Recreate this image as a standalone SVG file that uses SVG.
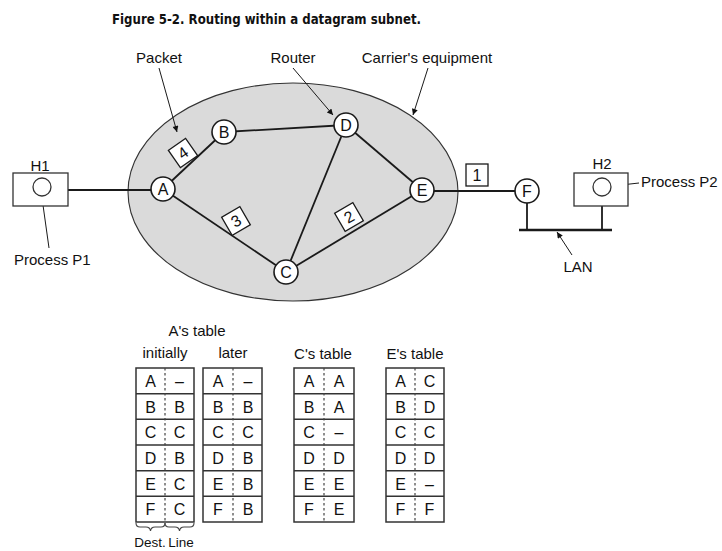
<svg xmlns="http://www.w3.org/2000/svg" width="722" height="551" viewBox="0 0 722 551">
<defs>
<marker id="ah" viewBox="0 0 10 10" refX="10" refY="5" markerWidth="9" markerHeight="6" markerUnits="userSpaceOnUse" orient="auto">
<path d="M0,0 L10,5 L0,10 z" fill="#111"/>
</marker>
</defs>
<style>
text{font-family:"Liberation Sans",Arial,sans-serif;fill:#111}
.lbl{font-size:15px}
.ttl{font-family:"DejaVu Sans",sans-serif;font-weight:bold;font-size:13.5px}
.nd{fill:#fff;stroke:#1a1a1a;stroke-width:1.6}
.nt{font-size:16px;text-anchor:middle}
.ln{stroke:#1a1a1a;stroke-width:1.8;fill:none}
.ar{stroke:#1a1a1a;stroke-width:1;fill:none;marker-end:url(#ah)}
.pk{fill:#fff;stroke:#1a1a1a;stroke-width:1.3}
.tb{fill:#fff;stroke:#333;stroke-width:1.5}
.rs{stroke:#333;stroke-width:1.6}
.dv{stroke:#444;stroke-width:1.2;stroke-dasharray:2.5,2.5}
.ct{font-size:16px;text-anchor:middle}
.mid{text-anchor:middle}
</style>
<rect width="722" height="551" fill="#fff"/>
<text class="ttl" x="266.5" y="24" text-anchor="middle" textLength="309" lengthAdjust="spacingAndGlyphs">Figure 5-2. Routing within a datagram subnet.</text>

<g id="carrier">
<ellipse cx="293" cy="192" rx="165" ry="109" fill="#dadada" stroke="#333" stroke-width="1.1"/>
</g>

<g id="connectors">
<line class="ln" x1="68" y1="190" x2="151" y2="190"/>
<line class="ln" x1="163" y1="189" x2="224" y2="132"/>
<line class="ln" x1="163" y1="189" x2="286" y2="272"/>
<line class="ln" x1="224" y1="132" x2="346" y2="125"/>
<line class="ln" x1="346" y1="125" x2="286" y2="272"/>
<line class="ln" x1="346" y1="125" x2="422" y2="190"/>
<line class="ln" x1="286" y1="272" x2="422" y2="190"/>
<line class="ln" x1="422" y1="191" x2="527" y2="191"/>
<line class="ln" x1="527" y1="191" x2="527" y2="230"/>
<line class="ln" x1="602" y1="206" x2="602" y2="230"/>
<line x1="519" y1="230" x2="612" y2="230" stroke="#1a1a1a" stroke-width="2.4"/>
<line class="ar" x1="159" y1="68" x2="177" y2="132"/>
<line class="ar" x1="293" y1="68" x2="333" y2="115"/>
<line class="ar" x1="428" y1="68" x2="413" y2="115"/>
<line class="ar" x1="49" y1="248" x2="42" y2="198"/>
<line class="ar" x1="639" y1="183" x2="612" y2="186"/>
<line class="ar" x1="572" y1="255" x2="557" y2="232"/>
</g>

<g id="H1">
<rect x="13" y="173" width="55" height="33" fill="#fff" stroke="#333" stroke-width="1.3"/>
<circle cx="42" cy="187" r="9" fill="#fff" stroke="#333" stroke-width="1.3"/>
<text class="lbl mid" x="40" y="171">H1</text>
</g>
<g id="H2">
<rect x="574" y="173" width="54" height="33" fill="#fff" stroke="#333" stroke-width="1.3"/>
<circle cx="602" cy="187" r="9" fill="#fff" stroke="#333" stroke-width="1.3"/>
<text class="lbl mid" x="602" y="169">H2</text>
</g>

<g id="nodeA"><circle class="nd" cx="163" cy="189" r="12"/><text class="nt" x="163" y="195">A</text></g>
<g id="nodeB"><circle class="nd" cx="224" cy="132" r="12"/><text class="nt" x="224" y="138">B</text></g>
<g id="nodeC"><circle class="nd" cx="286" cy="272" r="12"/><text class="nt" x="286" y="278">C</text></g>
<g id="nodeD"><circle class="nd" cx="346" cy="125" r="12"/><text class="nt" x="346" y="131">D</text></g>
<g id="nodeE"><circle class="nd" cx="422" cy="190" r="12"/><text class="nt" x="422" y="196">E</text></g>
<g id="nodeF"><circle class="nd" cx="527" cy="191" r="12"/><text class="nt" x="527" y="197">F</text></g>

<g id="packet4" transform="translate(183,153) rotate(-35)"><rect class="pk" x="-10.5" y="-10.5" width="21" height="21"/><text class="nt" x="0" y="5.5">4</text></g>
<g id="packet3" transform="translate(236,221) rotate(-30)"><rect class="pk" x="-10.5" y="-10.5" width="21" height="21"/><text class="nt" x="0" y="5.5">3</text></g>
<g id="packet2" transform="translate(349,217) rotate(-30)"><rect class="pk" x="-10.5" y="-10.5" width="21" height="21"/><text class="nt" x="0" y="5.5">2</text></g>
<g id="packet1"><rect class="pk" x="466" y="164" width="22" height="22"/><text class="nt" x="477" y="181">1</text></g>

<g id="labels">
<text class="lbl mid" x="159" y="63">Packet</text>
<text class="lbl mid" x="293" y="63">Router</text>
<text class="lbl mid" x="427" y="63">Carrier's equipment</text>
<text class="lbl" x="14" y="265">Process P1</text>
<text class="lbl" x="641" y="187">Process P2</text>
<text class="lbl mid" x="578" y="272">LAN</text>
<text class="lbl mid" x="197" y="336">A's table</text>
<text class="lbl mid" x="165" y="358">initially</text>
<text class="lbl mid" x="233" y="358">later</text>
<text class="lbl mid" x="323" y="359">C's table</text>
<text class="lbl mid" x="415" y="359">E's table</text>
<text class="lbl mid" x="150" y="547" style="font-size:13.5px">Dest.</text>
<text class="lbl mid" x="181" y="547" style="font-size:13.5px">Line</text>
</g>

<g id="tableA1">
<rect class="tb" x="136" y="368" width="58" height="154"/>
<line class="rs" x1="136" y1="393.7" x2="194" y2="393.7"/>
<line class="rs" x1="136" y1="419.3" x2="194" y2="419.3"/>
<line class="rs" x1="136" y1="445" x2="194" y2="445"/>
<line class="rs" x1="136" y1="470.7" x2="194" y2="470.7"/>
<line class="rs" x1="136" y1="496.3" x2="194" y2="496.3"/>
<line class="dv" x1="165" y1="368" x2="165" y2="522"/>
<text class="ct" x="150.5" y="387">A</text><text class="ct" x="179.5" y="387">–</text>
<text class="ct" x="150.5" y="412.5">B</text><text class="ct" x="179.5" y="412.5">B</text>
<text class="ct" x="150.5" y="438">C</text><text class="ct" x="179.5" y="438">C</text>
<text class="ct" x="150.5" y="463.5">D</text><text class="ct" x="179.5" y="463.5">B</text>
<text class="ct" x="150.5" y="489.5">E</text><text class="ct" x="179.5" y="489.5">C</text>
<text class="ct" x="150.5" y="515">F</text><text class="ct" x="179.5" y="515">C</text>
<path d="M136,523 q0,4 4,4 h6 q4,0 4.5,4 q0.5,-4 4.5,-4 h6 q4,0 4,-4" fill="none" stroke="#444" stroke-width="1.1"/>
<path d="M165,523 q0,4 4,4 h6 q4,0 4.5,4 q0.5,-4 4.5,-4 h6 q4,0 4,-4" fill="none" stroke="#444" stroke-width="1.1"/>
</g>

<g id="tableA2">
<rect class="tb" x="203" y="368" width="59" height="154"/>
<line class="rs" x1="203" y1="393.7" x2="262" y2="393.7"/>
<line class="rs" x1="203" y1="419.3" x2="262" y2="419.3"/>
<line class="rs" x1="203" y1="445" x2="262" y2="445"/>
<line class="rs" x1="203" y1="470.7" x2="262" y2="470.7"/>
<line class="rs" x1="203" y1="496.3" x2="262" y2="496.3"/>
<line class="dv" x1="233" y1="368" x2="233" y2="522"/>
<text class="ct" x="218" y="387">A</text><text class="ct" x="248" y="387">–</text>
<text class="ct" x="218" y="412.5">B</text><text class="ct" x="248" y="412.5">B</text>
<text class="ct" x="218" y="438">C</text><text class="ct" x="248" y="438">C</text>
<text class="ct" x="218" y="463.5">D</text><text class="ct" x="248" y="463.5">B</text>
<text class="ct" x="218" y="489.5">E</text><text class="ct" x="248" y="489.5">B</text>
<text class="ct" x="218" y="515">F</text><text class="ct" x="248" y="515">B</text>
</g>

<g id="tableC">
<rect class="tb" x="294" y="368" width="60" height="154"/>
<line class="rs" x1="294" y1="393.7" x2="354" y2="393.7"/>
<line class="rs" x1="294" y1="419.3" x2="354" y2="419.3"/>
<line class="rs" x1="294" y1="445" x2="354" y2="445"/>
<line class="rs" x1="294" y1="470.7" x2="354" y2="470.7"/>
<line class="rs" x1="294" y1="496.3" x2="354" y2="496.3"/>
<line class="dv" x1="324" y1="368" x2="324" y2="522"/>
<text class="ct" x="309" y="387">A</text><text class="ct" x="339" y="387">A</text>
<text class="ct" x="309" y="412.5">B</text><text class="ct" x="339" y="412.5">A</text>
<text class="ct" x="309" y="438">C</text><text class="ct" x="339" y="438">–</text>
<text class="ct" x="309" y="463.5">D</text><text class="ct" x="339" y="463.5">D</text>
<text class="ct" x="309" y="489.5">E</text><text class="ct" x="339" y="489.5">E</text>
<text class="ct" x="309" y="515">F</text><text class="ct" x="339" y="515">E</text>
</g>

<g id="tableE">
<rect class="tb" x="386" y="368" width="58" height="154"/>
<line class="rs" x1="386" y1="393.7" x2="444" y2="393.7"/>
<line class="rs" x1="386" y1="419.3" x2="444" y2="419.3"/>
<line class="rs" x1="386" y1="445" x2="444" y2="445"/>
<line class="rs" x1="386" y1="470.7" x2="444" y2="470.7"/>
<line class="rs" x1="386" y1="496.3" x2="444" y2="496.3"/>
<line class="dv" x1="415" y1="368" x2="415" y2="522"/>
<text class="ct" x="400.5" y="387">A</text><text class="ct" x="429.5" y="387">C</text>
<text class="ct" x="400.5" y="412.5">B</text><text class="ct" x="429.5" y="412.5">D</text>
<text class="ct" x="400.5" y="438">C</text><text class="ct" x="429.5" y="438">C</text>
<text class="ct" x="400.5" y="463.5">D</text><text class="ct" x="429.5" y="463.5">D</text>
<text class="ct" x="400.5" y="489.5">E</text><text class="ct" x="429.5" y="489.5">–</text>
<text class="ct" x="400.5" y="515">F</text><text class="ct" x="429.5" y="515">F</text>
</g>
</svg>
